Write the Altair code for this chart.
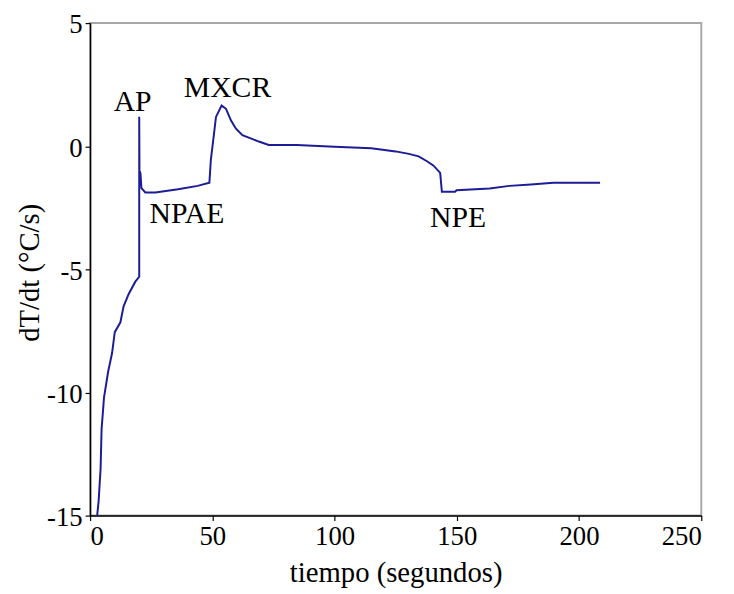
import altair as alt
import pandas as pd

tiempo = [2.9, 3.5, 4.3, 4.7, 5.7, 7.4, 9.0, 10.1, 12.4, 13.7, 15.8, 18.5, 20.1, 20.1, 20.2, 20.6,
          21.0, 22.6, 26.7, 36, 44, 48.8, 49.4, 51.5, 53.8, 55.6, 57.6, 59.6, 62.3, 65.7, 69,
          73.1, 84.5, 100, 115, 125, 130.4, 134.4, 137.8, 140.5, 143.2, 143.9, 149.3, 149.9,
          163.4, 171.5, 180.3, 189.5, 208.6]
dTdt = [-15, -14.4, -13.1, -11.5, -10.2, -9.15, -8.4, -7.55, -7.15, -6.5, -6.0, -5.5, -5.3, 1.2,
        -1.0, -1.1, -1.7, -1.88, -1.88, -1.75, -1.61, -1.48, -0.55, 1.19, 1.65, 1.52, 1.05, 0.72,
        0.45, 0.32, 0.19, 0.05, 0.05, -0.02, -0.08, -0.21, -0.31, -0.41, -0.61, -0.79, -1.08,
        -1.85, -1.85, -1.79, -1.72, -1.61, -1.55, -1.48, -1.48]

ann_text = ["AP", "MXCR", "NPAE", "NPE"]
ann_x = [17.4, 56.2, 39.6, 150.5]
ann_y = [1.44, 2.0, -3.12, -3.28]

df = pd.DataFrame({"t": tiempo, "v": dTdt, "o": list(range(len(tiempo)))})
ann = pd.DataFrame({"label": ann_text, "t": ann_x, "v": ann_y})

FONT = "Liberation Serif"

xscale = alt.Scale(domain=[0, 250], nice=False, zero=False)
yscale = alt.Scale(domain=[-15, 5], nice=False, zero=False)

common = dict(labelFont=FONT, labelFontSize=27, labelColor="black",
              titleFont=FONT, titleFontSize=29, titleColor="black", titleFontWeight="normal",
              labelExpr="'' + datum.value", labelPadding=3, grid=False,
              domainColor="black", domainWidth=1.5,
              tickColor="black", tickSize=5, tickWidth=1.2)

line = alt.Chart(df).mark_line(color="#1c1c96", strokeWidth=2, clip=True).encode(
    x=alt.X("t:Q", scale=xscale,
            axis=alt.Axis(title="tiempo (segundos)", values=[0, 50, 100, 150, 200, 250],
                          titleX=309, titleY=67, titleBaseline="alphabetic", **common)),
    y=alt.Y("v:Q", scale=yscale,
            axis=alt.Axis(title="dT/dt (°C/s)", values=[-15, -10, -5, 0, 5],
                          labelOffset=2,
                          titleX=-61, titleY=252, titleBaseline="middle", **common)),
    order="o:Q",
)

labels = alt.Chart(ann).mark_text(font=FONT, fontSize=30, color="black", align="center",
                                  baseline="alphabetic").encode(
    x=alt.X("t:Q", scale=xscale),
    y=alt.Y("v:Q", scale=yscale),
    text="label:N",
)

chart = (line + labels).properties(
    width=618, height=498,
    autosize=alt.AutoSizeParams(type="none"),
    padding={"left": 83, "top": 12, "right": 25, "bottom": 76},
    background="white",
).configure(font=FONT).configure_view(
    stroke="#a8a8a8", strokeWidth=2
)

chart.save("out.html", embed_options={"renderer": "svg", "actions": False})
